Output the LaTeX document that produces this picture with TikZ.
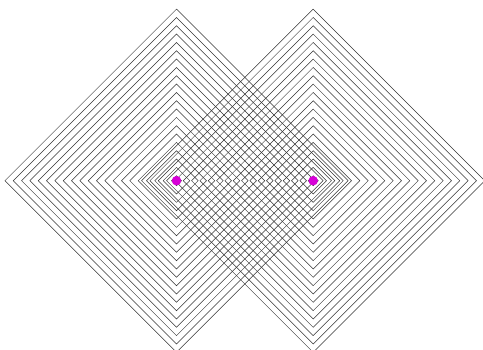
\documentclass[tikz,border=0pt]{standalone}
\usetikzlibrary{positioning}
\definecolor{sitecol}{RGB}{215,0,215}
\tikzset{
level/.style={line width=0.5pt, black!80}, % contour lines round each site
site/.style={circle, fill=sitecol, inner sep=0pt, minimum size=9.5pt}, % the two sites
}
\begin{document}
\begin{tikzpicture}[x=1pt,y=-1pt]
\useasboundingbox (0,0) rectangle (483,349);
\clip (0,0) rectangle (483,349);
\coordinate (p) at (176.5,180.7);
\coordinate (q) at (313.2,180.7);
% concentric diamonds
\foreach \c in {p,q}{
  \begin{scope}[shift={(\c)}]
  \foreach \k in {0,...,20}{
    \pgfmathsetmacro{\r}{5+8.33*\k}
    \draw[level] (-\r,0) -- (-\r/2,-\r/2) -- (0,-\r) -- (\r/2,-\r/2) -- (\r,0)
      -- (\r/2,\r/2) -- (0,\r) -- (-\r/2,\r/2) -- cycle;
  }
  \end{scope}
}
\node[site] (a) at (p) {};
\node[site] (b) at (q) {};
\end{tikzpicture}
\end{document}
